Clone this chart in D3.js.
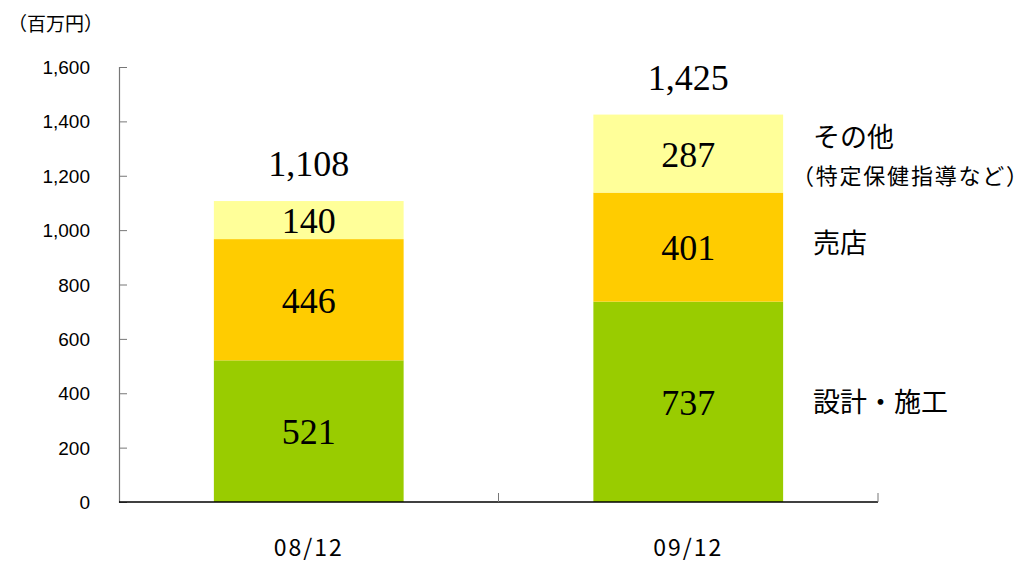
<!DOCTYPE html>
<html>
<head>
<meta charset="utf-8">
<script src="https://cdn.jsdelivr.net/npm/d3@7"></script>
<style>
  body { margin: 0; background: #fff; }
</style>
</head>
<body>
<div id="chart"></div>
<script>
const width = 1030;
const height = 564;

// データ
const periods = ["08/12", "09/12"];
const segments = ["設計・施工", "売店", "その他"];
const designValues = [521, 737];
const storeValues = [446, 401];
const otherValues = [140, 287];
const totals = [1108, 1425];
const yTicks = [0, 200, 400, 600, 800, 1000, 1200, 1400, 1600];

const colors = ["#99cc00", "#ffcc00", "#ffff99"];

const margin = { left: 119, right: 152, top: 67, bottom: 62 };

const svg = d3.select("#chart")
  .append("svg")
  .attr("width", width)
  .attr("height", height);

const x = d3.scaleBand()
  .domain(periods)
  .range([margin.left, width - margin.right])
  .paddingInner(0)
  .paddingOuter(0);

const y = d3.scaleLinear()
  .domain([0, 1600])
  .range([height - margin.bottom, margin.top]);

const barW = x.bandwidth() * 0.5;
const serif = "'Liberation Serif', 'DejaVu Serif', serif";
const gothic = "'Noto Sans CJK JP', sans-serif";

// 積み上げデータ
const rows = periods.map((p, i) => ({
  period: p,
  "設計・施工": designValues[i],
  "売店": storeValues[i],
  "その他": otherValues[i]
}));
const stacked = d3.stack().keys(segments)(rows);

// 棒
stacked.forEach((layer, li) => {
  layer.forEach(d => {
    const cx = x(d.data.period) + x.bandwidth() / 2;
    svg.append("rect")
      .attr("x", cx - barW / 2)
      .attr("y", y(d[1]))
      .attr("width", barW)
      .attr("height", y(d[0]) - y(d[1]))
      .attr("fill", colors[li]);

    svg.append("text")
      .attr("x", cx)
      .attr("y", (y(d[0]) + y(d[1])) / 2 + 13)
      .attr("text-anchor", "middle")
      .attr("font-family", serif)
      .attr("font-size", 36)
      .attr("fill", "#000")
      .text(d[1] - d[0]);
  });
});

// 合計
periods.forEach((p, i) => {
  svg.append("text")
    .attr("x", x(p) + x.bandwidth() / 2)
    .attr("y", y(totals[i]) - 25)
    .attr("text-anchor", "middle")
    .attr("font-family", serif)
    .attr("font-size", 36)
    .attr("fill", "#000")
    .text(d3.format(",")(totals[i]));
});

// Y軸
const yAxis = svg.append("g")
  .attr("transform", `translate(${margin.left},0)`)
  .call(d3.axisRight(y).tickValues(yTicks).tickSize(8).tickFormat(""));
yAxis.select(".domain").attr("stroke", "#777").attr("stroke-width", 1.2);
yAxis.selectAll(".tick line").attr("stroke", "#777");

svg.selectAll(".ylabel")
  .data(yTicks)
  .enter()
  .append("text")
  .attr("x", 90)
  .attr("y", d => y(d) + 7)
  .attr("text-anchor", "end")
  .attr("font-family", "'Liberation Sans', Arial, sans-serif")
  .attr("font-size", 19)
  .attr("fill", "#000")
  .text(d => d3.format(",")(d));

// X軸
const xAxisY = y(0);
svg.append("line")
  .attr("x1", margin.left)
  .attr("x2", width - margin.right)
  .attr("y1", xAxisY)
  .attr("y2", xAxisY)
  .attr("stroke", "#000")
  .attr("stroke-width", 1.5);

const boundaries = [x(periods[1]), x(periods[1]) + x.bandwidth()];
boundaries.forEach(bx => {
  svg.append("line")
    .attr("x1", bx).attr("x2", bx)
    .attr("y1", xAxisY).attr("y2", xAxisY - 9)
    .attr("stroke", "#777");
});

periods.forEach(p => {
  svg.append("text")
    .attr("x", x(p) + x.bandwidth() / 2)
    .attr("y", 556)
    .attr("text-anchor", "middle")
    .attr("font-family", gothic)
    .attr("font-size", 23)
    .attr("letter-spacing", 2)
    .attr("fill", "#000")
    .text(p);
});

// 単位
svg.append("text")
  .attr("x", 8)
  .attr("y", 31)
  .attr("font-family", gothic)
  .attr("font-size", 19)
  .attr("fill", "#000")
  .text("（百万円）");

// 右側ラベル
const layerMid = li => {
  const d = stacked[li][1];
  return (y(d[0]) + y(d[1])) / 2;
};

svg.append("text")
  .attr("x", 813).attr("y", layerMid(0) + 10)
  .attr("font-family", gothic).attr("font-size", 27).attr("fill", "#000")
  .text("設計・施工");

svg.append("text")
  .attr("x", 813).attr("y", 253)
  .attr("font-family", gothic).attr("font-size", 27).attr("fill", "#000")
  .text("売店");

svg.append("text")
  .attr("x", 813).attr("y", 147)
  .attr("font-family", gothic).attr("font-size", 27).attr("fill", "#000")
  .text("その他");

svg.append("text")
  .attr("x", 792).attr("y", 184)
  .attr("font-family", gothic).attr("font-size", 22).attr("fill", "#000")
  .attr("textLength", 236).attr("lengthAdjust", "spacing")
  .text("（特定保健指導など）");
</script>
</body>
</html>
